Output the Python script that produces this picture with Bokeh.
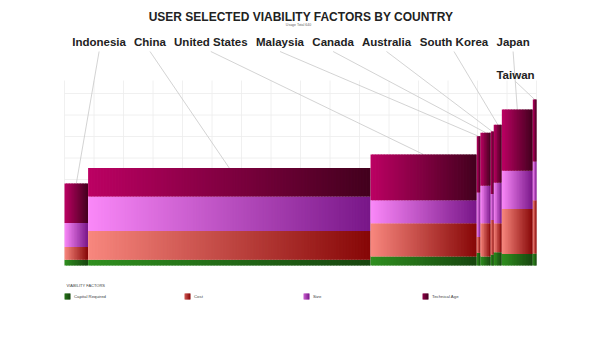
import numpy as np
from bokeh.plotting import figure
from bokeh.models import Range1d, ColumnDataSource
from bokeh.core.properties import value
from bokeh.embed import file_html
from bokeh.resources import INLINE

# ---------------- data ----------------
countries = ["Indonesia", "China", "United States", "Malaysia", "Canada",
             "Australia", "South Korea", "Japan", "Taiwan"]
respondents = [32, 383, 144, 5, 14, 4, 11, 42, 5]
capital_required = [2.7, 2.7, 4.2, 5.9, 4.2, 5.1, 6.2, 5.4, 5.6]
cost = [5.9, 13.3, 15.5, 7.3, 15.5, 16.1, 13.5, 20.9, 24.7]
size = [11.2, 16.1, 10.6, 20.7, 17.4, 12.1, 18.8, 17.8, 18.1]
technical_age = [18.3, 13.2, 21.3, 26.2, 24.7, 29.0, 27.0, 28.5, 28.8]
factor_names = ["Capital Required", "Cost", "Size", "Technical Age"]
factor_values = [capital_required, cost, size, technical_age]
title_text = "USER SELECTED VIABILITY FACTORS BY COUNTRY"
subtitle_text = "Usage Total 640"
legend_title = "VIABILITY FACTORS"

# ---------------- layout / style ----------------
W, H = 600, 337
PL, PR, PT, PB = 64, 536, 80, 265          # plot area in pixels
PX_PER_UNIT_Y = 2.15
X_TOTAL = sum(respondents)
X_GRID_STEP = 40
Y_GRID_STEP = 10

gradients = {
    "Capital Required": ("#2f8f1f", "#17450f"),
    "Cost": ("#f8877e", "#860606"),
    "Size": ("#fa88f8", "#781688"),
    "Technical Age": ("#bc0063", "#42001d"),
}

def dx(px):
    return (px - PL) / (PR - PL) * X_TOTAL

def dy(py):
    return (PB - py) / PX_PER_UNIT_Y

def hex2rgb(h):
    h = h.lstrip("#")
    return np.array([int(h[i:i + 2], 16) for i in (0, 2, 4)], dtype=float)

def mix(c0, c1, t):
    a, b = hex2rgb(c0), hex2rgb(c1)
    c = a + (b - a) * t
    return "#%02x%02x%02x" % tuple(int(round(v)) for v in c)

p = figure(width=W, height=H, output_backend="svg", toolbar_location=None,
           x_range=Range1d(dx(0), dx(W)), y_range=Range1d(dy(H), dy(0)),
           x_axis_type=None, y_axis_type=None, min_border=0,
           outline_line_color=None, background_fill_color="white",
           border_fill_color="white")
p.xgrid.visible = False
p.ygrid.visible = False

y_top = dy(PT)
# grid lines
gx = np.arange(0, X_TOTAL + 1, X_GRID_STEP)
p.segment(x0=gx, y0=[0] * len(gx), x1=gx, y1=[y_top] * len(gx),
          line_color="#ececec", line_width=0.8)
gy = np.arange(Y_GRID_STEP, y_top, Y_GRID_STEP)
p.segment(x0=[0] * len(gy), y0=gy, x1=[X_TOTAL] * len(gy), y1=gy,
          line_color="#ececec", line_width=0.8)

# ---------------- bars (gradient slices) ----------------
lefts = np.concatenate([[0], np.cumsum(respondents)[:-1]])
totals = np.sum(np.array(factor_values), axis=0)
overlap = dx(PL + 0.8) - dx(PL)
q = dict(left=[], right=[], bottom=[], top=[], color=[])
for i, c in enumerate(countries):
    x0 = lefts[i]
    w = respondents[i]
    npx = w * (PR - PL) / X_TOTAL
    n = max(4, int(npx / 1.5))
    edges = np.linspace(x0, x0 + w, n + 1)
    base = 0.0
    for fname, vals in zip(factor_names, factor_values):
        c0, c1 = gradients[fname]
        for k in range(n):
            t = (k + 0.5) / n
            q["left"].append(edges[k])
            q["right"].append(edges[k + 1] + (overlap if k < n - 1 else 0))
            q["bottom"].append(base)
            q["top"].append(base + vals[i])
            q["color"].append(mix(c0, c1, t))
        base += vals[i]

# connector lines (label -> bar top centre)
label_cx = [98.6, 149.5, 210.3, 279.5, 332.6, 386.0, 453.5, 512.6, 515.0]
label_cy = [41, 41, 41, 41, 41, 41, 41, 41, 74.5]
line_start_py = [51, 51, 51, 51, 51, 51, 51, 51, 81]
centers = lefts + np.array(respondents) / 2.0
p.segment(x0=[dx(v) for v in label_cx], y0=[dy(v) for v in line_start_py],
          x1=centers, y1=totals, line_color="#c8c8c8", line_width=0.8)

src = ColumnDataSource(q)
p.quad(left="left", right="right", bottom="bottom", top="top", source=src,
       fill_color="color", line_color=None)

# ---------------- texts ----------------
p.text(x=[dx(300.5)], y=[dy(16.5)], text=[title_text],
       text_font=value("Liberation Sans"), text_font_style="bold",
       text_font_size="12px", text_color="#222222",
       text_align="center", text_baseline="middle")
p.text(x=[dx(298)], y=[dy(24.5)], text=[subtitle_text],
       text_font=value("Liberation Sans"), text_font_size="3.5px",
       text_color="#666666", text_align="center", text_baseline="middle")
p.text(x=[dx(v) for v in label_cx], y=[dy(v) for v in label_cy], text=countries,
       text_font=value("Liberation Sans"), text_font_style="bold",
       text_font_size="11.5px", text_color="#222222",
       text_align="center", text_baseline="middle")

# ---------------- legend ----------------
p.text(x=[dx(66)], y=[dy(285)], text=[legend_title],
       text_font=value("Liberation Sans"), text_font_size="4px",
       text_color="#444444", text_align="left", text_baseline="middle")
leg_px = [64, 184, 303, 422]
lq = dict(left=[], right=[], bottom=[], top=[], color=[])
for lx, fname in zip(leg_px, factor_names):
    c0, c1 = gradients[fname]
    n = 6
    for k in range(n):
        t = (k + 0.5) / n
        lq["left"].append(dx(lx + 6 * k / n))
        lq["right"].append(dx(lx + 6 * (k + 1) / n + (0.6 if k < n - 1 else 0)))
        lq["bottom"].append(dy(299))
        lq["top"].append(dy(293))
        lq["color"].append(mix(c0, c1, 0.35 + 0.65 * t))
p.quad(left="left", right="right", bottom="bottom", top="top",
       source=ColumnDataSource(lq), fill_color="color", line_color=None)
p.text(x=[dx(v + 9.5) for v in leg_px], y=[dy(296)] * 4, text=factor_names,
       text_font=value("Liberation Sans"), text_font_size="4.3px",
       text_color="#444444", text_align="left", text_baseline="middle")

open("out.html", "w").write(file_html(p, INLINE))
